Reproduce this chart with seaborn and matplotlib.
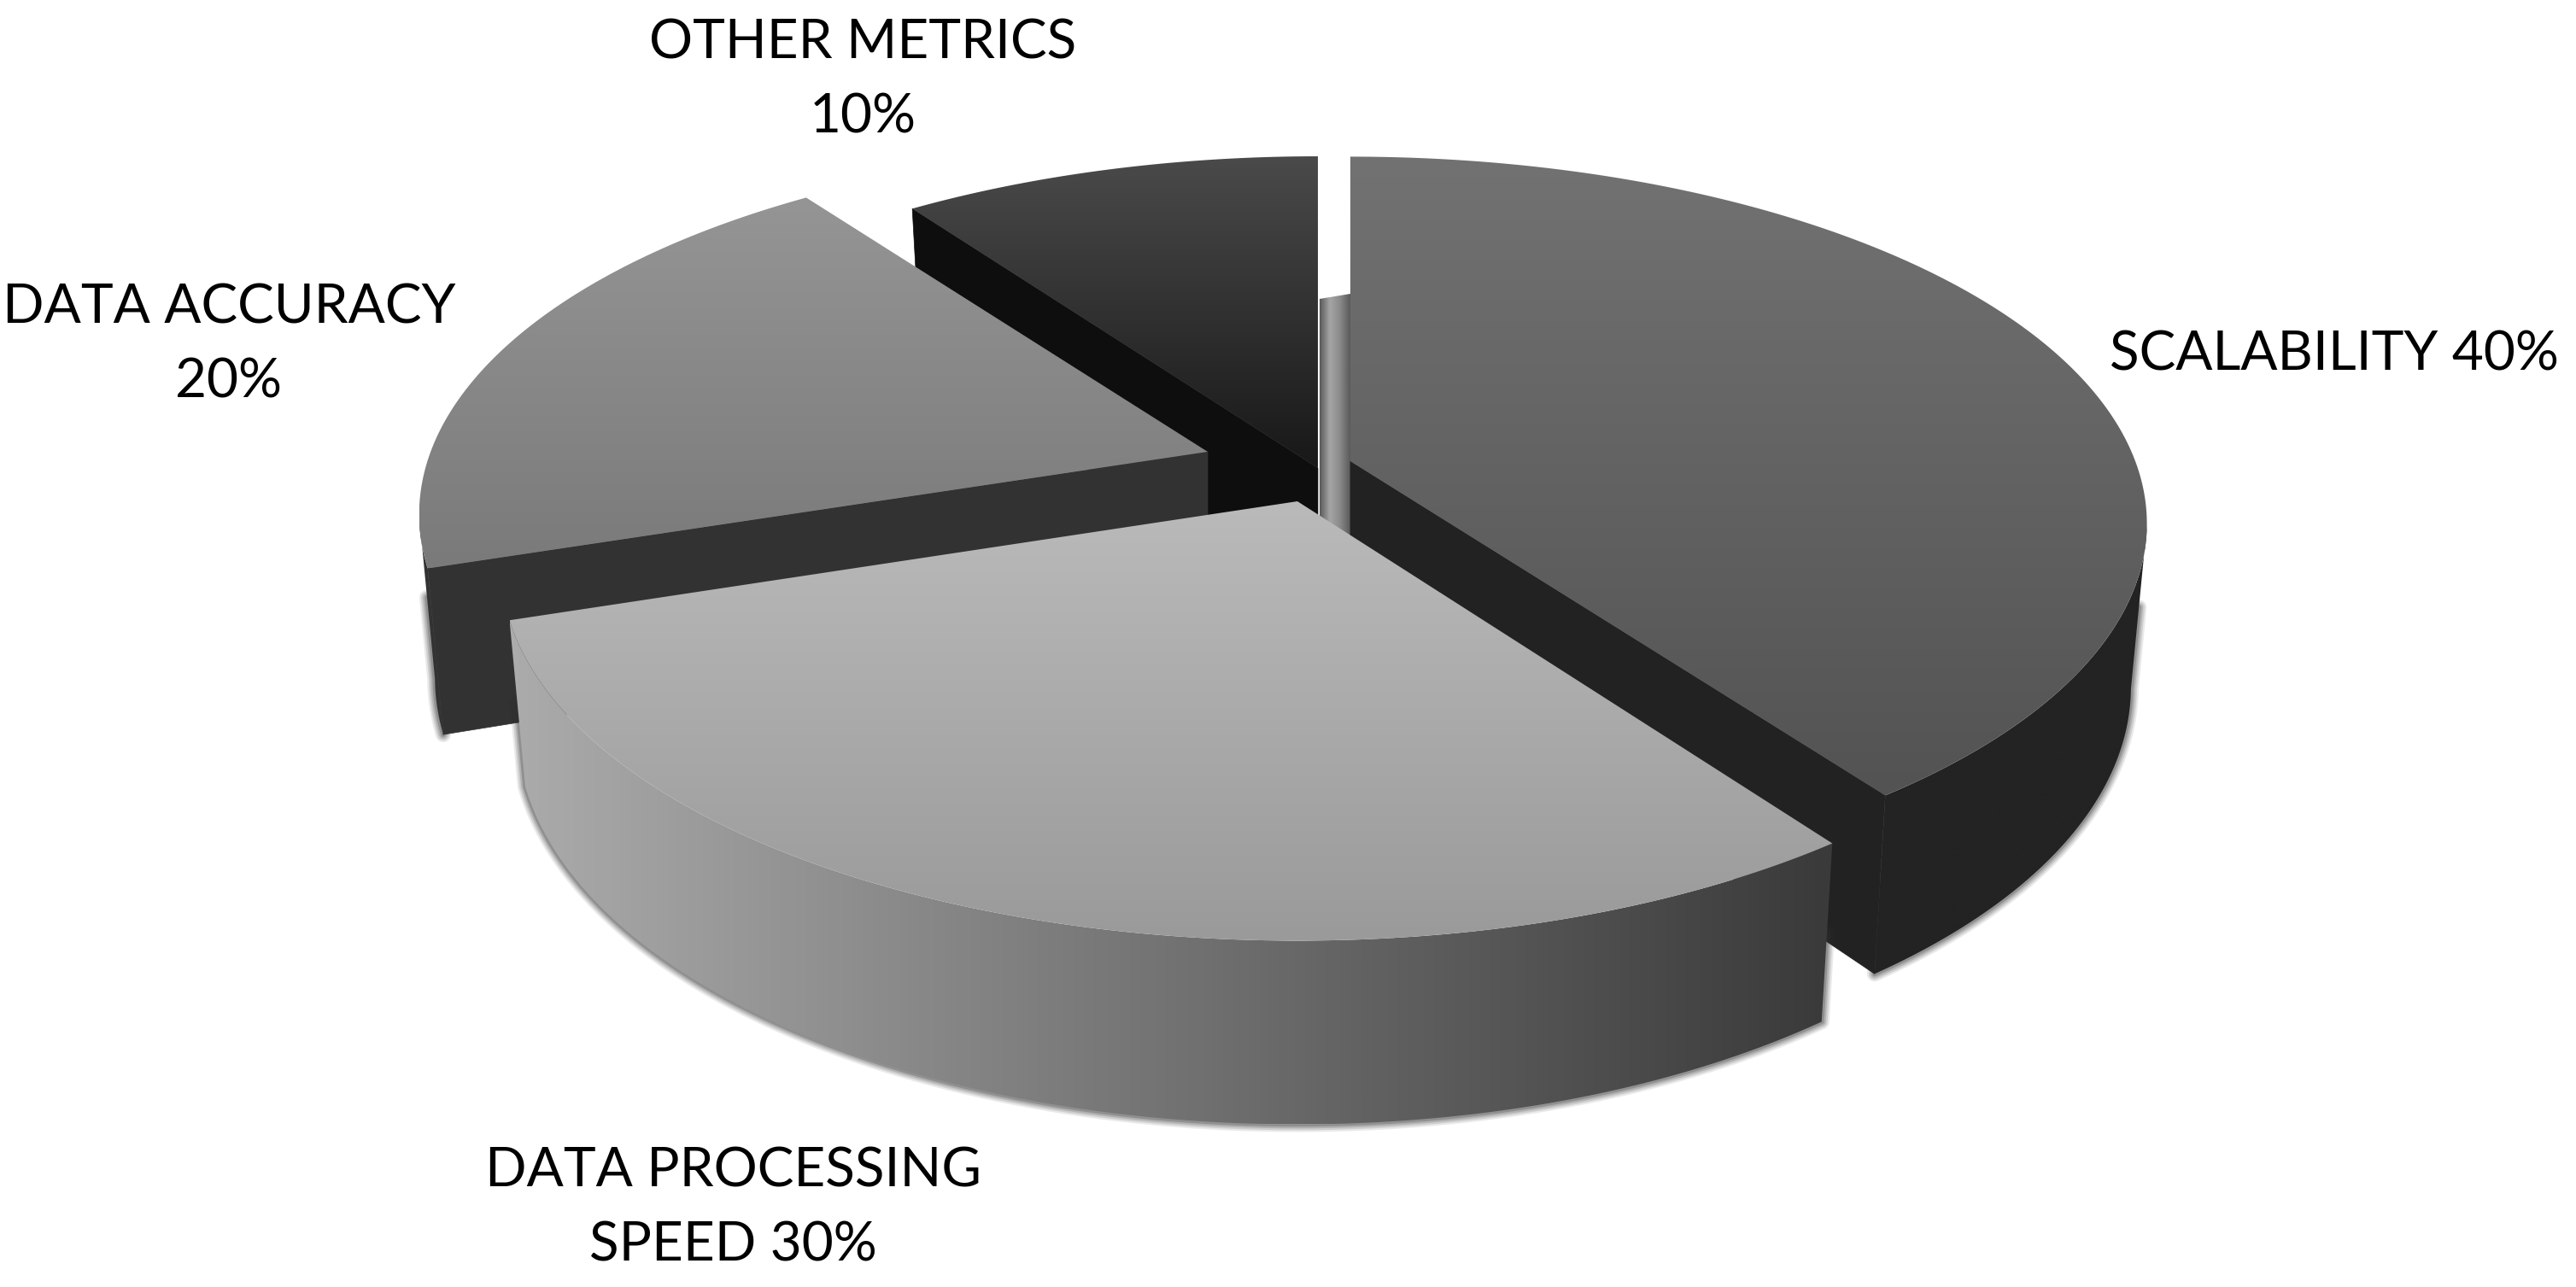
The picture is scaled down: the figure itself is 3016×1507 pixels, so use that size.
import numpy as np
import matplotlib
matplotlib.use("Agg")
import matplotlib.pyplot as plt
from matplotlib.patches import Polygon
import seaborn as sns

# ---- data -------------------------------------------------------------
categories = ["SCALABILITY", "DATA PROCESSING\nSPEED", "DATA ACCURACY", "OTHER METRICS"]
values = [40, 30, 20, 10]
labels = ["SCALABILITY 40%", "DATA PROCESSING\nSPEED 30%", "DATA ACCURACY\n20%", "OTHER METRICS\n10%"]

# ---- styling (one entry per slice) -------------------------------------
top_shades = [("#727272", "#535353"), ("#bababa", "#9a9a9a"), ("#959595", "#7a7a7a"), ("#4a4a4a", "#181818")]
side_shades = [("#232323", "#232323"), ("#ababab", "#3a3a3a"), ("#333333", "#333333"), ("#111111", "#111111")]
cut_shades = ["#222222", "#333333", "#323232", "#0e0e0e"]
cut_edges = [(-1,), (), (0,), (0,)]          # which straight edges face the viewer
apex = [(1581, 540), (1519, 587), (1414, 529), (1543, 548)]
scale_x = [1.0, 1.0, 0.99, 1.0]
scale_y = [0.977, 1.0, 0.98, 1.0]
label_xy = [(2733, 415), (858, 1415), (268, 404), (1010, 94)]
draw_order = [3, 0, 2, 1]

RX, RY, K, DEPTH, SHRINK = 919.0, 427.0, 0.17, 187.0, 0.98
RIM_START, RIM_END = np.radians(100), np.radians(260)   # part of the rim facing the viewer
W, H = 3016, 1507

sns.set_theme(style="white")
plt.rcParams["font.family"] = ["Lato", "DejaVu Sans"]
fig = plt.figure(figsize=(W / 100, H / 100), dpi=100, facecolor="white")
ax = fig.add_axes([0, 0, 1, 1])
ax.set_xlim(0, W)
ax.set_ylim(H, 0)
ax.set_autoscale_on(False)
ax.axis("off")


def project(t):
    w = 1 + K * np.cos(t)
    return RX * np.sin(t) / w, -RY * np.cos(t) / w, w


def grad_fill(poly, c0, c1, vertical=True, z=1, stops=None):
    pal = stops if stops else [c0, c1]
    cmap = sns.blend_palette(pal, as_cmap=True)
    g = np.linspace(0, 1, 256)
    arr = g[:, None] if vertical else g[None, :]
    x0, y0 = poly.min(axis=0)
    x1, y1 = poly.max(axis=0)
    im = ax.imshow(arr, cmap=cmap, vmin=0, vmax=1, aspect="auto", extent=(x0, x1, y1, y0),
                   origin="upper", interpolation="bilinear", zorder=z)
    patch = Polygon(poly, closed=True, fc="none", ec="none", transform=ax.transData)
    ax.add_patch(patch)
    im.set_clip_path(patch)
    return im


# narrow face seen through the gap between the first and last slices
gap = np.array([[1545, 350], [1581, 344], [1581, 640], [1545, 640]], float)
grad_fill(gap, None, None, vertical=False, z=1, stops=["#5a5a5a", "#a5a5a5", "#8a8a8a", "#5a5a5a"])

fractions = np.array(values, float) / np.sum(values)
edges = np.concatenate([[0], np.cumsum(fractions)]) * 2 * np.pi

for n, i in enumerate(draw_order):
    z = 2 + n
    ax_, ay_ = apex[i]
    t = np.linspace(edges[i], edges[i + 1], 480)
    px, py, w = project(t)
    px, py = px * scale_x[i], py * scale_y[i]
    top = np.column_stack([ax_ + px, ay_ + py])
    bot = np.column_stack([ax_ + SHRINK * px, ay_ + SHRINK * py + DEPTH / w])

    # outer rim: only the part that faces the viewer
    seen = (t >= RIM_START) & (t <= RIM_END)
    if seen.sum() > 1:
        rim_top, rim_bot = top[seen], bot[seen]
        outline = np.vstack([(rim_top[:1] + rim_bot[:1]) / 2, rim_bot, (rim_top[-1:] + rim_bot[-1:]) / 2])
        for lw, a in zip([13, 10, 7, 4], [0.10, 0.14, 0.18, 0.25]):
            ax.plot(outline[:, 0], outline[:, 1], color="#303030", alpha=a, lw=lw, zorder=z,
                    solid_capstyle="round")
        side = np.vstack([rim_top, rim_bot[::-1]])
        grad_fill(side, side_shades[i][0], side_shades[i][1], vertical=False, z=z + 0.1)

    # cut faces
    apex_top = np.array([ax_, ay_], float)
    apex_bot = np.array([ax_, ay_ + DEPTH], float)
    for e in cut_edges[i]:
        ax.add_patch(Polygon([apex_top, top[e], bot[e], apex_bot], closed=True,
                             fc=cut_shades[i], ec=cut_shades[i], lw=0.5, zorder=z + 0.2))

    # top face
    face = np.vstack([apex_top, top])
    grad_fill(face, top_shades[i][0], top_shades[i][1], vertical=True, z=z + 0.3)

for text, (x, y) in zip(labels, label_xy):
    ax.text(x, y, text, ha="center", va="center", fontsize=46, color="black",
            linespacing=1.6, zorder=20)

ax.set_xlim(0, W)
ax.set_ylim(H, 0)
fig.savefig("out.png", dpi=100, facecolor="white")
